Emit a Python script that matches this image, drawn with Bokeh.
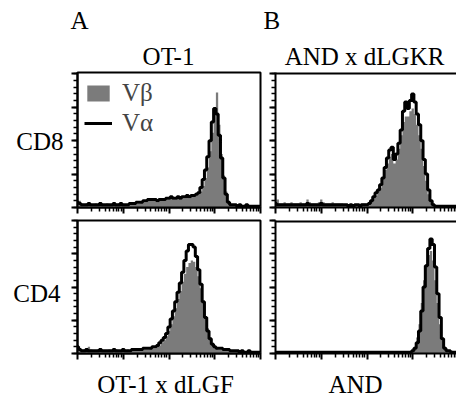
import numpy as np
from bokeh.plotting import figure
from bokeh.layouts import column, row
from bokeh.models import Range1d, FixedTicker, Label, Legend, LegendItem, Span
from bokeh.embed import file_html
from bokeh.resources import INLINE

# fluorescence channels, in log10 decades (0 .. 4)
channels = [round(0.05 * i, 2) for i in range(81)]

# Panel A top: OT-1, CD8
ot1_va = [4, 3, 2,
          2, 2, 3, 2, 2, 2, 2, 3, 2, 2, 2, 2, 2, 3, 2, 2, 3, 2, 2, 2, 3,
          3, 3, 4, 4, 4, 5, 5, 6, 6, 6, 6, 5, 6, 6, 6, 7, 7, 8, 7, 7, 8, 7, 8, 8, 9, 8, 9, 9, 10, 11,
          15, 21, 28, 38, 50, 64, 74, 70, 54, 37, 22, 10, 4, 2,
          2, 2, 1, 2, 1, 1, 2, 1, 1, 1, 1, 1, 1]
ot1_vb = [10, 5, 3,
          2, 3, 2, 2, 2, 3, 2, 2, 2, 2, 3, 2, 2, 2, 2, 3, 2, 2, 2, 2, 2,
          2, 3, 3, 3, 4, 4, 4, 5, 5, 5, 5, 4, 5, 5, 5, 6, 6, 7, 6, 6, 7, 6, 7, 7, 8, 7, 8, 8, 9, 10,
          12, 16, 22, 30, 42, 56, 72, 86, 62, 40, 24, 12, 5, 2,
          2, 1, 1, 1, 1, 1, 1, 1, 1, 1, 1, 1, 1]

# Panel B top: AND x dLGKR, CD8
anddlgkr_va = [3, 2,
               2, 2, 2, 2, 2, 2, 2, 2, 2, 2, 2, 2, 3, 2, 2, 2, 2, 2, 3, 2, 2, 2, 2, 2, 2, 2, 2,
               2, 2, 2, 1, 2, 1, 2, 2, 1, 2, 2, 2, 3,
               5, 8, 11, 13, 17, 22, 30, 37, 43, 45, 36, 40, 48, 58, 72, 79, 74, 80, 85, 79, 70, 62, 50, 36, 25, 13, 5, 2,
               1, 1, 1, 1, 1, 1, 1, 1, 1, 1, 1]
anddlgkr_vb = [21, 6,
               3, 3, 4, 3, 3, 4, 3, 3, 3, 4, 3, 3, 6, 4, 3, 3, 3, 4, 6, 4, 3, 3, 3, 4, 3, 3, 3,
               3, 2, 2, 2, 2, 2, 2, 2, 3, 3, 3, 3, 4,
               5, 7, 9, 12, 15, 22, 28, 33, 38, 40, 33, 36, 44, 54, 64, 68, 68, 72, 74, 70, 62, 54, 44, 31, 20, 10, 4, 2,
               1, 1, 1, 1, 1, 1, 1, 1, 1, 1, 1]

# Panel A bottom: OT-1 x dLGF, CD4
ot1dlgf_va = [5, 3,
              2, 2, 3, 2, 2, 2, 2, 2, 3, 2, 2, 2, 2, 2, 3, 2, 2, 2, 3, 2, 2, 2, 3, 3, 3, 3, 3,
              4, 4, 4, 4, 5, 5, 6, 8, 10, 12, 15,
              20, 26, 32, 39, 46, 53, 61, 70, 77, 82, 82, 80, 73, 63, 52, 39, 27, 17, 11, 7, 5,
              4, 4, 4, 3, 3, 3,
              2, 2, 2, 2, 1, 2, 1, 1, 2, 1, 1, 1, 1, 1]
ot1dlgf_vb = [8, 4,
              3, 3, 4, 5, 3, 2, 2, 3, 3, 2, 2, 2, 3, 2, 2, 3, 2, 2, 2, 2, 3, 2, 2, 3, 2, 3, 3,
              3, 3, 3, 4, 4, 4, 5, 6, 8, 10, 13,
              17, 22, 28, 34, 41, 47, 54, 60, 65, 68, 70, 69, 65, 58, 49, 38, 28, 19, 12, 8, 5,
              4, 3, 3, 3, 3, 2,
              2, 2, 1, 1, 1, 1, 1, 1, 1, 1, 1, 1, 1, 1]

# Panel B bottom: AND, CD4
and_va = [1, 1, 1, 1, 1, 1, 1, 1, 1, 1, 1, 1, 1, 1, 1, 1, 1, 1, 1, 1,
          1, 1, 1, 1, 1, 1, 1, 1, 1, 1, 1, 1, 1, 1, 1, 1, 1, 1, 1, 1,
          1, 1, 1, 1, 1, 1, 1, 1, 1, 1, 1, 1, 1, 1, 1, 1, 1, 1, 1, 1,
          2, 4, 8, 17, 32, 50, 66, 79, 86, 82, 65, 45, 27, 11, 4,
          2, 2, 1, 1, 1, 1]
and_vb = [1, 1, 1, 1, 1, 1, 1, 1, 1, 1, 1, 1, 1, 1, 1, 1, 1, 1, 1, 1,
          1, 1, 1, 1, 1, 1, 1, 1, 1, 1, 1, 1, 1, 1, 1, 1, 1, 1, 1, 1,
          1, 1, 1, 1, 1, 1, 1, 1, 1, 1, 1, 1, 1, 1, 1, 1, 1, 1, 1, 1,
          2, 5, 12, 22, 38, 55, 66, 74, 77, 70, 55, 38, 22, 10, 5,
          3, 2, 2, 1, 1, 1]

titles_top = ["OT-1", "AND x dLGKR"]
titles_bottom = ["OT-1 x dLGF", "AND"]
row_labels = ["CD8", "CD4"]
panel_letters = ["A", "B"]
legend_labels = ["V\u03b2", "V\u03b1"]

FONT = "Liberation Serif"
FS = "25px"
GRAY = "#7b7b7b"

ch = np.array(channels)
xs = 10 ** ch

major_x = [1, 10, 100, 1000, 10000]
minor_x = [k * 10 ** n for n in range(4) for k in range(2, 10)]


def blank(w, h):
    p = figure(output_backend="svg", toolbar_location=None,
               frame_width=w, frame_height=h,
               min_border_left=0, min_border_right=0, min_border_top=0, min_border_bottom=0,
               x_range=Range1d(0, 1), y_range=Range1d(0, 1),
               x_axis_location=None, y_axis_location=None)
    p.xgrid.visible = False
    p.ygrid.visible = False
    p.outline_line_color = None
    p.background_fill_color = "white"
    p.border_fill_color = "white"
    return p


def panel(va, vb, fw, fh, bl, br, bt, bb, ymax, xdec, open_right):
    p = figure(output_backend="svg", toolbar_location=None, x_axis_type="log",
               frame_width=fw, frame_height=fh,
               min_border_left=bl, min_border_right=br, min_border_top=bt, min_border_bottom=bb,
               x_range=Range1d(1, 10 ** xdec), y_range=Range1d(0, ymax))
    p.xgrid.visible = False
    p.ygrid.visible = False
    p.background_fill_color = "white"
    p.border_fill_color = "white"
    q = p.varea_step(x=xs, y1=0, y2=vb, step_mode="center", fill_color=GRAY)
    l = p.step(x=xs, y=va, mode="center", line_color="black", line_width=3)
    for ax in (p.xaxis[0], p.yaxis[0]):
        ax.major_label_text_font_size = "1px"
        ax.major_label_text_alpha = 0
        ax.major_label_standoff = 0
        ax.axis_line_width = 2
        ax.axis_line_color = "black"
        ax.major_tick_line_width = 2
        ax.minor_tick_line_width = 1.5
        ax.major_tick_in = 0
        ax.minor_tick_in = 0
        ax.major_tick_out = 6
        ax.minor_tick_out = 4
    p.xaxis[0].ticker = FixedTicker(ticks=major_x, minor_ticks=minor_x)
    p.yaxis[0].ticker = FixedTicker(ticks=[0, 25, 50, 75, 100],
                                    minor_ticks=list(range(0, 101, 5)))
    if open_right:
        p.outline_line_color = None
        p.add_layout(Span(location=ymax, dimension="width", line_color="black",
                          line_width=4))
    else:
        p.outline_line_color = "black"
        p.outline_line_width = 2
        p.outline_line_alpha = 1
    return p, q, l


def lab(p, x, y, text, align):
    p.add_layout(Label(x=x, y=y, x_units="screen", y_units="screen", text=text,
                       text_font=FONT, text_font_size=FS, text_align=align,
                       text_baseline="alphabetic", text_color="black"))


RIGHT_DEC = 4 * 181 / 183

p1, q1, l1 = panel(ot1_va, ot1_vb, 183, 135, 12, 5, 2, 8, 101, 4, False)
p2, _, _ = panel(anddlgkr_va, anddlgkr_vb, 181, 135, 10, 0, 2, 8, 101, RIGHT_DEC, True)
p3, _, _ = panel(ot1dlgf_va, ot1dlgf_vb, 183, 133, 12, 5, 5, 10, 100, 4, False)
p4, _, _ = panel(and_va, and_vb, 181, 133, 10, 0, 5, 10, 100, RIGHT_DEC, True)

legend = Legend(items=[LegendItem(label=legend_labels[0], renderers=[q1]),
                       LegendItem(label=legend_labels[1], renderers=[l1])],
                location="top_left", margin=0, padding=7, spacing=2,
                glyph_width=28, glyph_height=20, label_standoff=10,
                label_text_font=FONT, label_text_font_size=FS,
                border_line_alpha=0, background_fill_alpha=0)
p1.add_layout(legend)

header = blank(456, 70)
lab(header, 70, 50, panel_letters[0], "left")
lab(header, 168, 14, titles_top[0], "center")
lab(header, 263, 50, panel_letters[1], "left")
lab(header, 364, 14, titles_top[1], "center")

side = blank(65, 293)
lab(side, 63, 222, row_labels[0], "right")
lab(side, 60, 70, row_labels[1], "right")

footer = blank(456, 35)
lab(footer, 165, 14, titles_bottom[0], "center")
lab(footer, 355, 14, titles_bottom[1], "center")

layout = column(header,
                row(side, column(row(p1, p2), row(p3, p4))),
                footer)

open("out.html", "w").write(file_html(layout, INLINE))
